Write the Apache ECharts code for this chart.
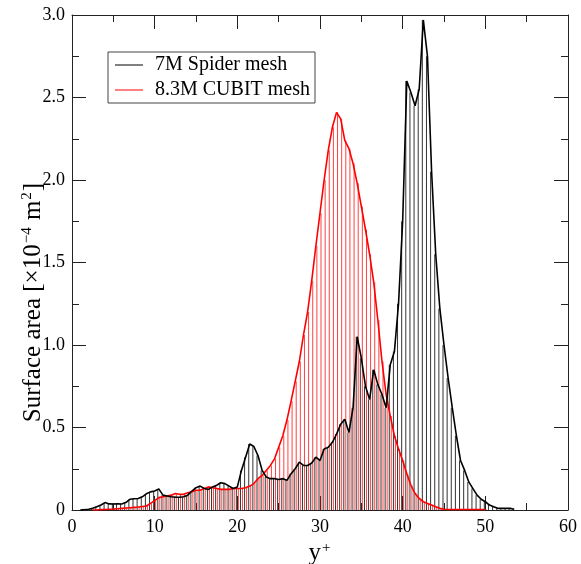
<!DOCTYPE html>
<html>
<head>
<meta charset="utf-8">
<script src="https://cdn.jsdelivr.net/npm/echarts@6/dist/echarts.min.js"></script>
<style>
    html, body { margin: 0; padding: 0; background: #fff; }
    #chart { width: 581px; height: 564px; }
</style>
</head>
<body>
<div id="chart"></div>
<script>
// 7M Spider mesh, bin centres in y+ and surface area (x1e-4 m^2)
const spiderY = [
    1.0, 1.5, 2.0, 2.5, 3.0, 3.5, 4.0, 4.5, 5.0, 5.5, 6.0, 6.5, 7.0, 7.5, 8.0, 8.5, 9.0, 9.5,
    10.0, 10.5, 11.0, 11.5, 12.0, 12.5, 13.0, 13.5, 14.0, 14.5, 15.0, 15.5, 16.0, 16.5, 17.0, 17.5,
    18.0, 18.5, 19.0, 19.5, 20.0, 20.5, 21.0, 21.5, 22.0, 22.5, 23.0, 23.5, 24.0, 24.5, 25.0, 25.5,
    26.0, 26.5, 27.0, 27.5, 28.0, 28.5, 29.0, 29.5, 30.0, 30.5, 31.0, 31.5, 32.0, 32.5, 33.0, 33.5,
    34.0, 34.5, 35.0, 35.5, 36.0, 36.5, 37.0, 37.5, 38.0, 38.5, 39.0, 39.5, 40.0, 40.5, 41.0, 41.5,
    42.0, 42.5, 43.0, 43.5, 44.0, 44.5, 45.0, 45.5, 46.0, 46.5, 47.0, 47.5, 48.0, 48.5, 49.0, 49.5,
    50.0, 50.5, 51.0, 51.5, 52.0, 52.5, 53.0, 53.5
]
const spiderArea = [
    0, 0.002, 0.005, 0.01, 0.02, 0.03, 0.045, 0.037, 0.036, 0.038, 0.036, 0.045, 0.065, 0.068, 0.07, 0.08, 0.098, 0.11,
    0.115, 0.128, 0.09, 0.085, 0.08, 0.078, 0.077, 0.08, 0.09, 0.115, 0.135, 0.145, 0.13, 0.125, 0.14, 0.15,
    0.165, 0.16, 0.145, 0.13, 0.14, 0.24, 0.32, 0.40, 0.385, 0.33, 0.24, 0.20, 0.19, 0.19, 0.185, 0.19,
    0.18, 0.22, 0.25, 0.29, 0.27, 0.27, 0.285, 0.32, 0.30, 0.37, 0.38, 0.41, 0.46, 0.52, 0.55, 0.47,
    0.62, 1.05, 0.92, 0.75, 0.67, 0.85, 0.76, 0.70, 0.62, 0.88, 0.96, 1.25, 1.75, 2.60, 2.53, 2.45,
    2.55, 2.97, 2.75, 2.05, 1.55, 1.22, 1.0, 0.80, 0.62, 0.45, 0.30, 0.24, 0.17, 0.13, 0.09, 0.065,
    0.05, 0.03, 0.02, 0.01, 0.01, 0.01, 0.01, 0.005
]

// 8.3M CUBIT mesh
const cubitY = [
    2.5, 3.0, 3.5, 4.0, 4.5, 5.0, 5.5, 6.0, 6.5, 7.0, 7.5, 8.0, 8.5, 9.0, 9.5,
    10.0, 10.5, 11.0, 11.5, 12.0, 12.5, 13.0, 13.5, 14.0, 14.5, 15.0, 15.5, 16.0, 16.5, 17.0, 17.5,
    18.0, 18.5, 19.0, 19.5, 20.0, 20.5, 21.0, 21.5, 22.0, 22.5, 23.0, 23.5, 24.0, 24.5, 25.0, 25.5,
    26.0, 26.5, 27.0, 27.5, 28.0, 28.5, 29.0, 29.5, 30.0, 30.5, 31.0, 31.5, 32.0, 32.5, 33.0, 33.5,
    34.0, 34.5, 35.0, 35.5, 36.0, 36.5, 37.0, 37.5, 38.0, 38.5, 39.0, 39.5, 40.0, 40.5, 41.0, 41.5,
    42.0, 42.5, 43.0, 43.5, 44.0, 44.5, 45.0, 45.5, 46.0, 46.5, 47.0, 47.5, 48.0, 48.5, 49.0, 49.5, 50.0
]
const cubitArea = [
    0, 0, 0.002, 0.003, 0.005, 0.006, 0.008, 0.01, 0.012, 0.014, 0.016, 0.018, 0.021, 0.024, 0.04,
    0.057, 0.075, 0.08, 0.085, 0.09, 0.10, 0.095, 0.095, 0.105, 0.11, 0.12, 0.12, 0.13, 0.14, 0.135, 0.13,
    0.125, 0.125, 0.125, 0.13, 0.13, 0.13, 0.135, 0.145, 0.16, 0.19, 0.21, 0.24, 0.27, 0.31, 0.38, 0.45,
    0.545, 0.66, 0.78, 0.90, 1.06, 1.20, 1.39, 1.60, 1.80, 2.00, 2.18, 2.32, 2.41, 2.37, 2.24, 2.19,
    2.10, 1.98, 1.84, 1.70, 1.55, 1.38, 1.15, 0.90, 0.70, 0.57, 0.45, 0.37, 0.30, 0.22, 0.15, 0.10,
    0.07, 0.05, 0.04, 0.03, 0.02, 0.01, 0.005, 0.003, 0.003, 0.003, 0.003, 0.003, 0.003, 0.003, 0.003, 0.003, 0.003
]

const xTicks = [0, 10, 20, 30, 40, 50, 60]
const yTicks = [0, 0.5, 1.0, 1.5, 2.0, 2.5, 3.0]

const FONT = 'Liberation Serif'
const spider = spiderY.map((x, i) => [x, spiderArea[i]])
const cubit = cubitY.map((x, i) => [x, cubitArea[i]])

const axisLine = { show: true, onZero: false, lineStyle: { color: '#222', width: 1 } }
const axisTick = { show: true, inside: true, length: 14, lineStyle: { color: '#222' } }
const minorTick = { show: true, splitNumber: 2, length: 7, lineStyle: { color: '#222' } }
const sup = { fontSize: 15, fontFamily: FONT, color: '#000', verticalAlign: 'bottom', padding: [0, 1, 11, 1] }
const base = { fontSize: 25, fontFamily: FONT, color: '#000', verticalAlign: 'bottom' }

function xAxis(pos, labels) {
    return {
        type: 'value', position: pos, min: xTicks[0], max: xTicks[xTicks.length - 1], interval: 10,
        axisLine, axisTick, minorTick,
        splitLine: { show: false },
        axisLabel: { show: labels, color: '#000', fontFamily: FONT, fontSize: 18, margin: 8 },
    }
}
function yAxis(pos, labels) {
    return {
        type: 'value', position: pos, min: yTicks[0], max: yTicks[yTicks.length - 1], interval: 0.5,
        axisLine, axisTick, minorTick,
        splitLine: { show: false },
        axisLabel: {
            show: labels, color: '#000', fontFamily: FONT, fontSize: 18, margin: 7,
            formatter: v => v === 0 ? '0' : v.toFixed(1),
        },
    }
}

const chart = echarts.init(document.getElementById('chart'), null, { renderer: 'canvas' })
chart.setOption({
    animation: false,
    backgroundColor: '#fff',
    grid: { left: 72, right: 13, top: 15, bottom: 54, containLabel: false, outerBoundsMode: 'none' },
    legend: {
        left: 108, top: 52, orient: 'vertical',
        data: ['7M Spider mesh', '8.3M CUBIT mesh'],
        icon: 'rect', itemWidth: 28, itemHeight: 1,
        borderColor: '#444', borderWidth: 1, borderRadius: 0,
        padding: [3, 5, 3, 7], itemGap: 5,
        textStyle: { fontFamily: FONT, fontSize: 20, lineHeight: 20, color: '#000', padding: [0, 0, 0, 7] },
    },
    xAxis: [
        Object.assign(xAxis('bottom', true), {
            name: 'y{sup|+}', nameLocation: 'middle', nameGap: 20,
            nameTextStyle: { ...base, rich: { sup } },
        }),
        xAxis('top', false),
    ],
    yAxis: [
        Object.assign(yAxis('left', true), {
            name: 'Surface area [×10{sup|−4} m{sup|2}]', nameLocation: 'middle', nameGap: 26,
            nameMoveOverlap: false,
            nameTextStyle: { ...base, rich: { sup }, padding: [0, 80, 0, 0] },
        }),
        yAxis('right', false),
    ],
    series: [
        {
            name: 'spider-drops', type: 'bar', data: spider, barWidth: 1, barGap: '100%',
            itemStyle: { color: '#333' }, silent: true, z: 1,
        },
        {
            name: 'cubit-drops', type: 'bar', data: cubit, barWidth: 1, barGap: '100%',
            itemStyle: { color: 'rgba(255,0,0,0.75)' }, silent: true, z: 2,
        },
        {
            name: '7M Spider mesh', type: 'line', data: spider, symbol: 'none',
            lineStyle: { color: '#000', width: 1.6 }, itemStyle: { color: '#000' }, z: 4,
        },
        {
            name: '8.3M CUBIT mesh', type: 'line', data: cubit, symbol: 'none',
            lineStyle: { color: '#ff0000', width: 1.6 }, itemStyle: { color: '#ff0000' }, z: 3,
        },
    ],
})

window.addEventListener('resize', () => chart.resize())
</script>
</body>
</html>
